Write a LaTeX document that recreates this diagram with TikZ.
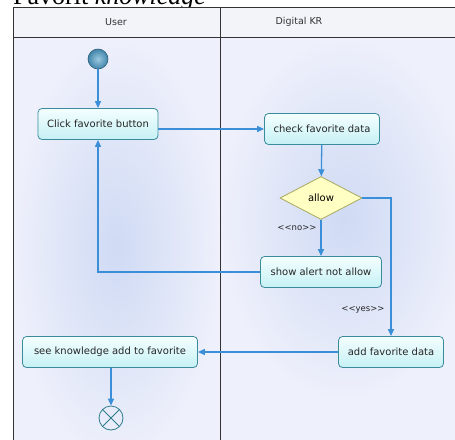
\documentclass[tikz,border=0pt]{standalone}
\usepackage{fontspec}
\setmainfont{Liberation Serif}
\newfontfamily\uifont{DejaVu Sans}
\usetikzlibrary{shapes.geometric,arrows.meta}
\definecolor{bgout}{HTML}{EEF0FB}
\definecolor{bgin}{HTML}{CFDAF4}
\definecolor{hdr}{HTML}{F3F3FA}
\definecolor{flow}{HTML}{3A8FD8}
\definecolor{actborder}{HTML}{3A8C9C}
\definecolor{acttop}{HTML}{F4FFFF}
\definecolor{actbot}{HTML}{C6F0F4}
\definecolor{decborder}{HTML}{A8A860}
\definecolor{decfill}{HTML}{FFFFC4}
\definecolor{startc}{HTML}{4C9CC8}
\definecolor{endc}{HTML}{2E7C8C}
\tikzset{
  act/.style={draw=actborder, line width=0.8pt, rounded corners=4pt, top color=acttop, bottom color=actbot,
    font=\uifont\fontsize{10}{12}\selectfont, minimum height=31pt, inner xsep=5pt, text=black!85},
  dec/.style={diamond, draw=decborder, line width=0.8pt, fill=decfill, aspect=1.9, inner sep=1pt,
    minimum width=82pt, minimum height=43pt, font=\uifont\fontsize{10}{12}\selectfont},
  flowline/.style={draw=flow, line width=1.3pt, -{Triangle[length=7pt,width=6pt]}},
  guard/.style={font=\uifont\fontsize{8.5}{10}\selectfont, text=black!85},
  lanehead/.style={font=\uifont\fontsize{9.5}{11}\selectfont, text=black!80},
}
\begin{document}
\begin{tikzpicture}[x=1pt,y=-1pt]
\useasboundingbox (0,0) rectangle (455,439);
\clip (0,0) rectangle (455,439);
\fill[white] (0,0) rectangle (455,439);
\node[anchor=base west, inner sep=0, font=\fontsize{26}{26}\selectfont] (cap) at (13,5) {Favorit \textit{knowledge}};
% lanes
\shade[inner color=bgin, outer color=bgout] (13,37) rectangle (220,460);
\shade[inner color=bgin, outer color=bgout] (220,37) rectangle (470,400);
\fill[bgout] (220,400) rectangle (470,460);
\fill[hdr] (13,7) rectangle (470,37);
\draw[black!80, line width=0.8pt] (13,445) -- (13,7) -- (470,7);
\draw[black!80, line width=0.8pt] (13,37) -- (470,37);
\draw[black!80, line width=0.8pt] (220,7) -- (220,445);
\node[lanehead] (h1) at (116,22) {User};
\node[lanehead] (h2) at (299,22) {Digital KR};
% nodes
\node[circle, draw=startc!60!black, line width=0.6pt, minimum size=20pt, inner sep=0, shading=radial,
  inner color=startc!55!white, outer color=startc!85!black] (start) at (98,59) {};
\node[act, minimum width=120pt] (click) at (98,124) {Click favorite button};
\node[act, minimum width=115pt] (check) at (322,129) {check favorite data};
\node[dec] (allow) at (321,198) {allow};
\node[act, minimum width=121pt] (alert) at (321,272) {show alert not allow};
\node[act, minimum width=105pt] (add) at (391,352) {add favorite data};
\node[act, minimum width=175pt] (see) at (110,352) {see knowledge add to favorite};
\node[circle, draw=endc, line width=0.8pt, minimum size=24pt, inner sep=0,
  path picture={\draw[endc, line width=0.8pt] (path picture bounding box.north west) -- (path picture bounding box.south east)
  (path picture bounding box.north east) -- (path picture bounding box.south west);}] (end) at (111,418) {};
\node[guard] (no) at (297,228) {\textless\textless no\textgreater\textgreater};
\node[guard] (yes) at (363,310) {\textless\textless yes\textgreater\textgreater};
% connectors
\draw[flowline] (start) -- (click);
\draw[flowline] (click.east |- check.west) -- (check.west);
\draw[flowline] (check) -- (allow);
\draw[flowline] (allow) -- (alert);
\draw[flowline] (allow.east) -| (add.north);
\draw[flowline] (alert.west) -| (click.south);
\draw[flowline] (add) -- (see);
\draw[flowline] (see.south -| end.north) -- (end.north);
\end{tikzpicture}
\end{document}
